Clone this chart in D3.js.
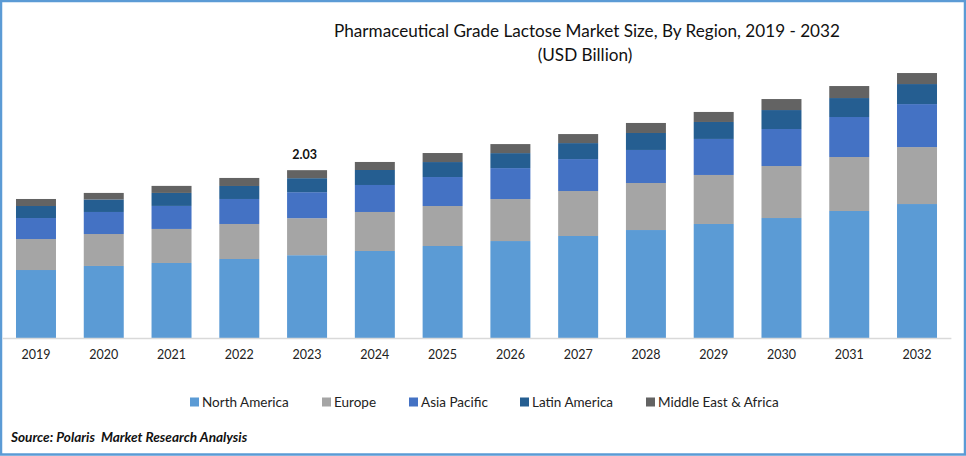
<!DOCTYPE html>
<html><head><meta charset="utf-8">
<script src="https://cdn.jsdelivr.net/npm/d3@7/dist/d3.min.js"></script>
<style>html,body{margin:0;padding:0;background:#fff}svg{display:block}text{font-family:Lato,"Noto Sans",sans-serif}</style>
</head><body><div id="chart"></div>
<script>
const years=["2019","2020","2021","2022","2023","2024","2025","2026","2027","2028","2029","2030","2031","2032"];
const seriesNames=["North America","Europe","Asia Pacific","Latin America","Middle East & Africa"];
const northAmerica=[.821,.870,.906,.954,1.00,1.051,1.111,1.171,1.232,1.304,1.377,1.449,1.534,1.618];
const europe=[.374,.386,.411,.423,.447,.471,.483,.507,.543,.568,.592,.628,.652,.688];
const asiaPacific=[.254,.266,.278,.302,.314,.326,.350,.374,.386,.399,.435,.447,.483,.519];
const latinAmerica=[.145,.151,.157,.157,.169,.181,.181,.181,.193,.205,.205,.229,.229,.242];
const middleEastAfrica=[.085,.079,.085,.097,.097,.097,.109,.109,.109,.121,.121,.133,.145,.133];
const colors=["#5b9bd5","#a5a5a5","#4472c4","#255e91","#636363"];
const annotation={year:"2023",label:"2.03"};

const W=966,H=456;
const rows=years.map((y,i)=>({year:y,"North America":northAmerica[i],"Europe":europe[i],"Asia Pacific":asiaPacific[i],"Latin America":latinAmerica[i],"Middle East & Africa":middleEastAfrica[i]}));
const stack=d3.stack().keys(seriesNames)(rows);
const svg=d3.select("#chart").append("svg").attr("width",W).attr("height",H);

svg.append("rect").attr("x",1).attr("y",1).attr("width",W-2).attr("height",H-2.5)
  .attr("fill","#fff").attr("stroke","#5b9bd5").attr("stroke-width",2.5);

svg.append("text").attr("x",587).attr("y",37).attr("text-anchor","middle")
  .attr("font-size",17.14).attr("fill","#111").text("Pharmaceutical Grade Lactose Market Size, By Region, 2019 - 2032");
svg.append("text").attr("x",585).attr("y",61).attr("text-anchor","middle")
  .attr("font-size",17.14).attr("fill","#111").text("(USD Billion)");

const x=d3.scaleBand().domain(years).range([2.1,950.9]).paddingInner(.41).paddingOuter(.205);
const y=d3.scaleLinear().domain([0,3.3]).range([338,338-3.3*82.8]);

svg.append("g").selectAll("g").data(stack).join("g").attr("fill",(d,i)=>colors[i])
  .selectAll("rect").data(d=>d).join("rect")
  .attr("x",d=>x(d.data.year)).attr("width",x.bandwidth())
  .attr("y",d=>y(d[1])).attr("height",d=>y(d[0])-y(d[1]));

const axis=svg.append("g").attr("transform","translate(0,338)")
  .call(d3.axisBottom(x).tickSize(0).tickPadding(12.5));
axis.select(".domain").attr("stroke","#d9d9d9").attr("stroke-width",1.5);
axis.selectAll("text").attr("font-size",12.5).attr("fill","#222").style("font-family","Lato,'Noto Sans',sans-serif");

const total=seriesNames.reduce((s,n)=>s+rows[years.indexOf(annotation.year)][n],0);
svg.append("text").attr("x",x(annotation.year)+x.bandwidth()/2-2.5).attr("y",y(total)-11)
  .attr("text-anchor","middle").attr("font-size",12.5).attr("font-weight",700).attr("fill","#111").text(annotation.label);

const legendX=[190,322,409,520,646];
const legend=svg.append("g").selectAll("g").data(seriesNames).join("g")
  .attr("transform",(d,i)=>`translate(${legendX[i]},402)`);
legend.append("rect").attr("x",0).attr("y",-4.5).attr("width",9).attr("height",9).attr("fill",(d,i)=>colors[i]);
legend.append("text").attr("x",12).attr("y",4.5).attr("font-size",13.5).attr("fill","#222").text(d=>d);

svg.append("text").attr("x",11).attr("y",442).attr("font-size",13.6).attr("font-weight",700)
  .attr("font-style","italic").attr("fill","#111").text("Source: Polaris\u00a0 Market Research Analysis");
</script></body></html>
